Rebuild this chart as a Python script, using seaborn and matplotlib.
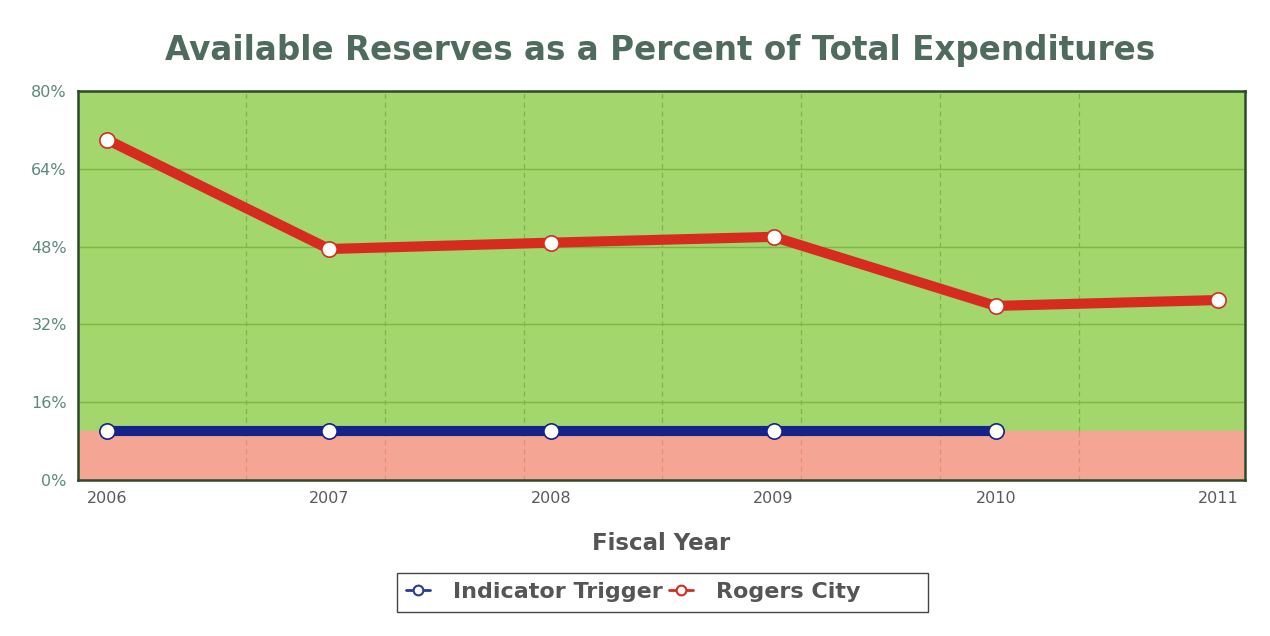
import matplotlib
matplotlib.use("Agg")
import matplotlib.pyplot as plt
import seaborn as sns
import pandas as pd
import numpy as np
from matplotlib.lines import Line2D
from matplotlib.patches import Rectangle

years_red = [2006, 2007, 2008, 2009, 2010, 2011]
rogers_city = [70.0, 47.5, 48.8, 50.0, 35.8, 37.0]
years_blue = [2006, 2007, 2008, 2009, 2010]
indicator_trigger = [10.0, 10.0, 10.0, 10.0, 10.0]
threshold = 10.0
ytick_vals = [0, 16, 32, 48, 64, 80]
ytick_labels = ["0%", "16%", "32%", "48%", "64%", "80%"]
xtick_labels = ["2006", "2007", "2008", "2009", "2010", "2011"]

sns.set_theme(style="white")
plt.rcParams['font.family'] = ['DejaVu Sans']

df = pd.concat([
    pd.DataFrame({"Year": years_blue, "Value": indicator_trigger, "Series": "Indicator Trigger"}),
    pd.DataFrame({"Year": years_red, "Value": rogers_city, "Series": "Rogers City"}),
])

W, H = 1270, 636
fig = plt.figure(figsize=(12.7, 6.36), dpi=100)
fig.patch.set_facecolor("white")
ax = fig.add_axes([0.0614, 0.2453, 0.9186, 0.6117])

xmin, xmax = 2005.87, 2011.12
ax.set_xlim(xmin, xmax)
ax.set_ylim(0, 80)
ax.axhspan(threshold, 80, color="#a3d66c", zorder=0)
ax.axhspan(0, threshold, color="#f5a593", zorder=0)

for y in ytick_vals[1:-1]:
    ax.axhline(y, color="#7cb648", lw=1.0, zorder=1)
for k in range(1, 8):
    xv = 2006 + 0.625 * k
    ax.axvline(xv, ymin=threshold / 80, ymax=1, color="#7cb648", lw=0.9, ls=(0, (4, 3)), zorder=1)
    ax.axvline(xv, ymin=0, ymax=threshold / 80, color="#e88880", lw=0.9, ls=(0, (4, 3)), zorder=1)

palette = {"Indicator Trigger": "#14228a", "Rogers City": "#d62b1f"}
sns.lineplot(data=df, x="Year", y="Value", hue="Series", palette=palette,
             linewidth=7.3, marker="o", markersize=11, markerfacecolor="white",
             markeredgewidth=1.2, ax=ax, legend=False, zorder=3)
for line in ax.get_lines():
    c = line.get_color()
    line.set_markeredgecolor(c)
    line.set_solid_capstyle("butt")

ax.set_xticks(years_red)
ax.set_xticklabels(xtick_labels, color="#5a5a5a", fontsize=11.5)
ax.set_yticks(ytick_vals)
ax.set_yticklabels(ytick_labels, color="#5a8a78", fontsize=11.5)
ax.tick_params(axis="both", length=0, pad=8)
ax.set_xlabel("Fiscal Year", fontsize=16.5, fontweight="bold", color="#555555", labelpad=19)
ax.set_ylabel("")
for s in ax.spines.values():
    s.set_visible(True)
    s.set_color("#2a4a2a")
    s.set_linewidth(1.8)

fig.text(0.5197, 0.921, "Available Reserves as a Percent of Total Expenditures",
         ha="center", va="center", fontsize=23.5, fontweight="bold", color="#4f6b5e")

# legend box
fig.patches.append(Rectangle((397 / W, 1 - 612 / H), (928 - 397) / W, 39 / H,
                             transform=fig.transFigure, fill=False,
                             edgecolor="#444444", linewidth=1.0))
handles = [
    Line2D([], [], color="#2a3a9a", lw=2, marker="o", markersize=7, markerfacecolor="white",
           markeredgecolor="#2a3a9a", markeredgewidth=1.5),
    Line2D([], [], color="#d62b1f", lw=2, marker="o", markersize=7, markerfacecolor="white",
           markeredgecolor="#d62b1f", markeredgewidth=1.5),
]
leg = fig.legend(handles, ["Indicator Trigger", "Rogers City"], loc="center",
                 bbox_to_anchor=(633 / W, 1 - 592 / H), ncol=2, frameon=False,
                 handlelength=1.1, columnspacing=0.3, handletextpad=1.0,
                 prop={"weight": "bold", "size": 16})
for t in leg.get_texts():
    t.set_color("#555555")

fig.savefig("out.png", dpi=100)
